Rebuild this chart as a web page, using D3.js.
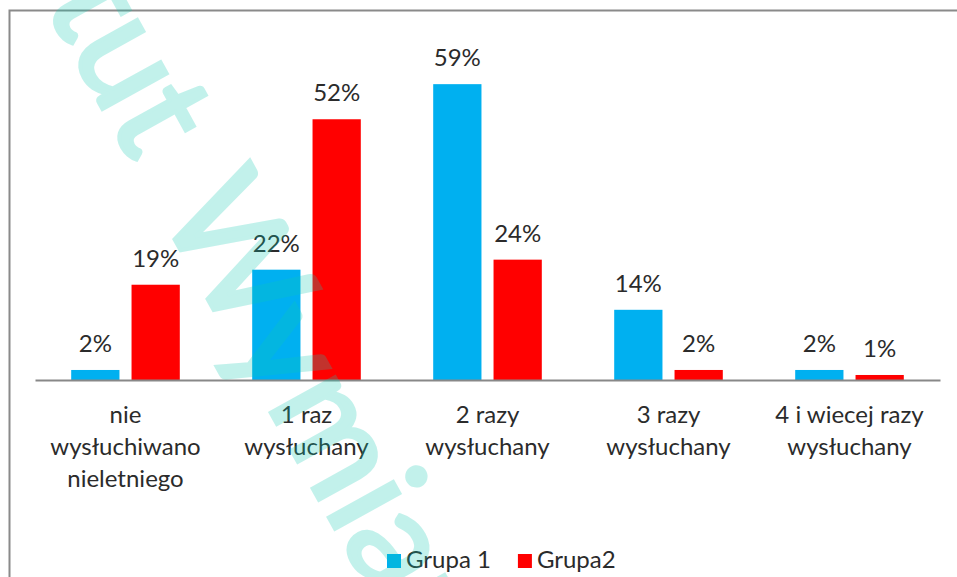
<!DOCTYPE html>
<html>
<head>
<meta charset="utf-8">
<script src="https://cdn.jsdelivr.net/npm/d3@7"></script>
<style>
  body { margin: 0; background: #fff; }
  svg { display: block; font-family: Lato, "Open Sans", sans-serif; }
</style>
</head>
<body>
<svg id="chart"></svg>
<script>
const categories = [
  "nie wysłuchiwano nieletniego",
  "1 raz wysłuchany",
  "2 razy wysłuchany",
  "3 razy wysłuchany",
  "4 i wiecej razy wysłuchany"
];
const categoryLines = [
  ["nie", "wysłuchiwano", "nieletniego"],
  ["1 raz", "wysłuchany"],
  ["2 razy", "wysłuchany"],
  ["3 razy", "wysłuchany"],
  ["4 i wiecej razy", "wysłuchany"]
];
const series = ["Grupa 1", "Grupa2"];
const grupa1 = [2, 22, 59, 14, 2];
const grupa2 = [19, 52, 24, 2, 1];
const colors = ["#00b0f0", "#ff0000"];

const width = 957;
const height = 577;
const baseY = 380;

const chart = d3
  .select("#chart")
  .attr("width", width)
  .attr("height", height);

// outer frame of the chart area (cut off at right and bottom)
chart
  .append("rect")
  .attr("x", 9.5)
  .attr("y", 10.5)
  .attr("width", 1000)
  .attr("height", 1000)
  .attr("fill", "none")
  .attr("stroke", "#8a8a8a")
  .attr("stroke-width", 2);

const x0 = d3.scaleBand().domain(categories).range([35, 940]);
const x1 = d3
  .scaleBand()
  .domain(series)
  .range([0, x0.bandwidth()])
  .paddingInner(0.2)
  .paddingOuter(0.6);
const y = d3.scaleLinear().domain([0, 70]).range([baseY, 29]);

const rows = categories.map((c, i) => ({
  cat: c,
  values: [grupa1[i], grupa2[i]].map((v, j) => ({ key: series[j], value: v, color: colors[j] }))
}));

const groups = chart
  .selectAll("g.cat")
  .data(rows)
  .enter()
  .append("g")
  .attr("class", "cat")
  .attr("transform", (d) => `translate(${x0(d.cat)},0)`);

groups
  .selectAll("rect")
  .data((d) => d.values)
  .enter()
  .append("rect")
  .attr("x", (d) => x1(d.key))
  .attr("y", (d) => y(d.value))
  .attr("width", x1.bandwidth())
  .attr("height", (d) => baseY - y(d.value))
  .attr("fill", (d) => d.color);

groups
  .selectAll("text.value")
  .data((d) => d.values)
  .enter()
  .append("text")
  .attr("class", "value")
  .attr("x", (d) => x1(d.key) + x1.bandwidth() / 2)
  .attr("y", (d) => y(d.value) - 18)
  .attr("text-anchor", "middle")
  .attr("font-size", 24)
  .attr("fill", "#2b2b2b")
  .text((d) => d.value + "%");

// x axis: the line and wrapped category labels
const xAxis = chart
  .append("g")
  .attr("transform", `translate(0,${baseY})`)
  .call(d3.axisBottom(x0).tickSize(0).tickSizeOuter(0));

xAxis.select(".domain").attr("stroke", "#888").attr("stroke-width", 2);

xAxis
  .selectAll(".tick text")
  .each(function (d, i) {
    const t = d3.select(this).text(null).attr("y", 0).attr("dy", null);
    categoryLines[i].forEach((line, k) => {
      t.append("tspan").attr("x", 0).attr("y", 43 + k * 32).text(line);
    });
  })
  .attr("font-size", 24)
  .attr("font-family", "Lato, 'Open Sans', sans-serif")
  .attr("fill", "#2b2b2b");

// legend
const legend = chart.append("g");
let lx = 387;
series.forEach((s, i) => {
  legend
    .append("rect")
    .attr("x", lx)
    .attr("y", 554)
    .attr("width", 14)
    .attr("height", 14)
    .attr("fill", colors[i]);
  const t = legend
    .append("text")
    .attr("x", lx + 19)
    .attr("y", 568)
    .attr("font-size", 24)
    .attr("fill", "#2b2b2b")
    .text(s);
  lx += 19 + t.node().getComputedTextLength() + 27;
});

// diagonal watermark on top
const wm = chart
  .append("g")
  .attr("transform", "translate(150,195) rotate(61)")
  .attr("opacity", 0.25)
  .attr("fill", "#0fcbb3")
  .attr("stroke", "#0fcbb3")
  .attr("stroke-width", 4)
  .attr("font-size", 145)
  .style("pointer-events", "none");
wm.append("text").attr("text-anchor", "end").attr("x", -36).text("Instytut");
wm.append("text").attr("text-anchor", "start").attr("x", 16).text("Wymiaru Sprawiedliwości");
</script>
</body>
</html>
